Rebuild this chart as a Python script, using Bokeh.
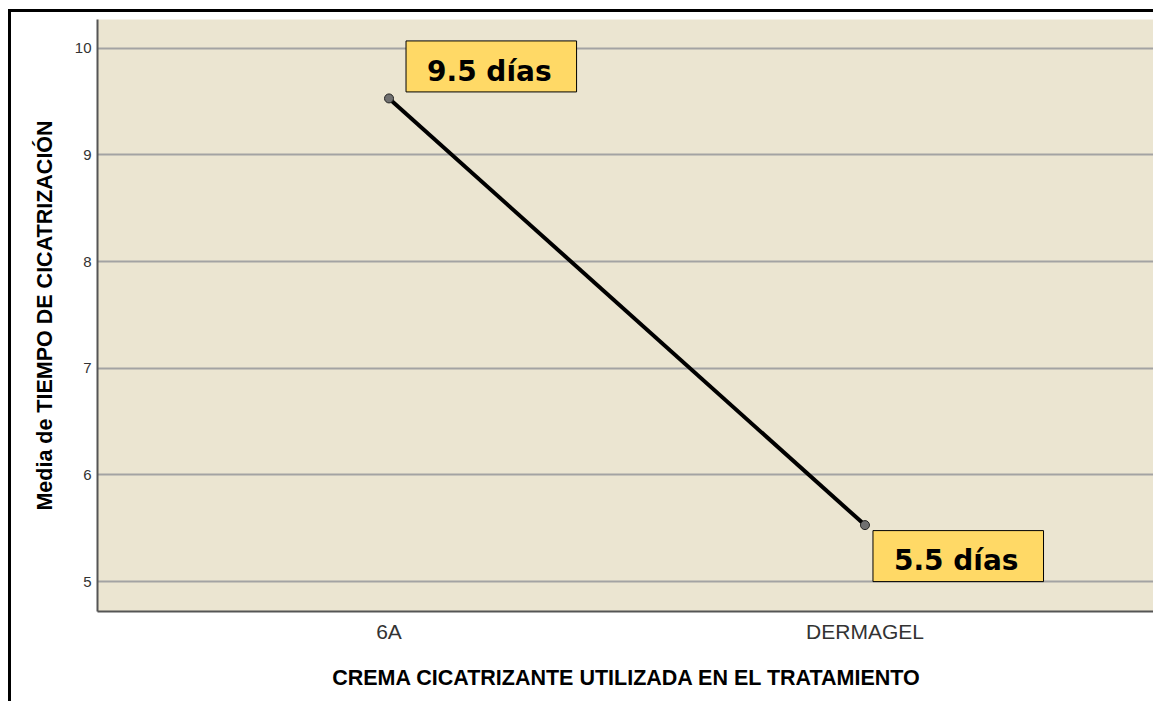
from bokeh.plotting import figure
from bokeh.models import Range1d, FactorRange, FixedTicker, Label, ColumnDataSource
from bokeh.embed import file_html
from bokeh.resources import INLINE

categories = ["6A", "DERMAGEL"]
means = [9.53, 5.53]
value_labels = ["9.5 días", "5.5 días"]
y_ticks = [5, 6, 7, 8, 9, 10]

src = ColumnDataSource(dict(x=categories, y=means))

p = figure(width=1145, height=692, output_backend="svg", toolbar_location=None,
           x_range=FactorRange(factors=categories, range_padding=0.1125),
           y_range=Range1d(4.72, 10.27),
           min_border_left=86, min_border_top=7, min_border_right=0, min_border_bottom=93)
p.styles = {"margin-left": "8px", "margin-top": "9px",
            "border-left": "3px solid black", "border-top": "3px solid black"}

p.background_fill_color = "#EBE5D1"
p.border_fill_color = "white"
p.outline_line_color = None

p.xgrid.grid_line_color = None
p.ygrid.grid_line_color = "#A3A3A3"
p.ygrid.grid_line_width = 2
p.yaxis.ticker = FixedTicker(ticks=y_ticks)

for ax in (p.xaxis, p.yaxis):
    ax.major_tick_line_color = None
    ax.minor_tick_line_color = None
    ax.major_tick_out = 0
    ax.major_tick_in = 0
    ax.axis_line_color = "#555555"
    ax.axis_line_width = 2
    ax.major_label_text_font = "Liberation Sans"
    ax.major_label_text_color = "#333333"
    ax.axis_label_text_font = "Liberation Sans"
    ax.axis_label_text_font_style = "bold"
    ax.axis_label_text_color = "black"

p.yaxis.major_label_text_font_size = "15px"
p.yaxis.major_label_standoff = 6
p.yaxis.axis_label = "Media de TIEMPO DE CICATRIZACIÓN"
p.yaxis.axis_label_text_font_size = "21.5px"
p.yaxis.axis_label_standoff = 15

p.xaxis.major_label_text_font_size = "21px"
p.xaxis.major_label_standoff = 8
p.xaxis.axis_label = "CREMA CICATRIZANTE UTILIZADA EN EL TRATAMIENTO"
p.xaxis.axis_label_text_font_size = "21.5px"
p.xaxis.axis_label_standoff = 20

p.line("x", "y", source=src, line_color="black", line_width=4)
p.scatter("x", "y", source=src, size=9, fill_color="#707070", line_color="#222222", line_width=1)

offsets = [(17, 32), (8, -31)]
paddings = [(21, 25, 14, 4), (21, 25, 13, 5)]  # left, right, top, bottom
for i, (m, txt, (xo, yo), pad) in enumerate(zip(means, value_labels, offsets, paddings)):
    lab = Label(x=i + 0.5, y=m, x_offset=xo, y_offset=yo, text=txt,
                text_font="DejaVu Sans", text_font_style="bold", text_font_size="28px",
                text_color="black", text_align="left", text_baseline="alphabetic",
                background_fill_color="#FFD966", border_line_color="black", border_line_width=1,
                padding=pad)
    p.add_layout(lab)

open("out.html", "w").write(file_html(p, INLINE))
